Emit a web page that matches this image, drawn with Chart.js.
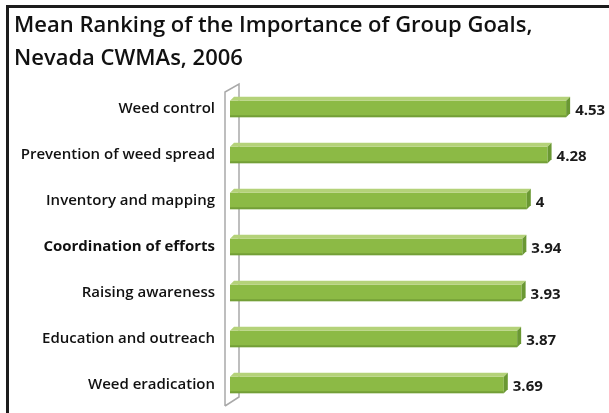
<!DOCTYPE html>
<html>
<head>
<meta charset="utf-8">
<script src="https://cdn.jsdelivr.net/npm/chart.js@4/dist/chart.umd.min.js"></script>
<style>
  html, body { margin: 0; padding: 0; background: #fff; }
  #wrap { position: relative; width: 609px; height: 413px; overflow: hidden; }
  #frame { position: absolute; left: 6px; top: 5px; width: 620px; height: 420px;
           border-left: 3px solid #1c1c1c; border-top: 3px solid #1c1c1c; }
  canvas { position: absolute; left: 0; top: 0; }
</style>
</head>
<body>
<div id="wrap">
  <canvas id="c" width="609" height="413"></canvas>
  <div id="frame"></div>
</div>
<script>
// Goals and their mean importance ranking
const categories = [
  'Weed control',
  'Prevention of weed spread',
  'Inventory and mapping',
  'Coordination of efforts',
  'Raising awareness',
  'Education and outreach',
  'Weed eradication'
];
const meanRanks = [4.53, 4.28, 4, 3.94, 3.93, 3.87, 3.69];
const valueLabels = ['4.53', '4.28', '4', '3.94', '3.93', '3.87', '3.69'];
const titleLines = ['Mean Ranking of the Importance of Group Goals,', 'Nevada CWMAs, 2006'];

const FONT = "'Open Sans', 'DejaVu Sans', sans-serif";
const DEPTH_X = 4, DEPTH_Y = 4;

// Draws the side wall of the 3D plot and the extruded faces of each bar
const depthPlugin = {
  id: 'depth',
  beforeDatasetsDraw(chart) {
    const { ctx, chartArea: a } = chart;
    const fx = a.left - 5, bx = a.left + 9;
    const fTop = a.top + 6, bTop = a.top - 2;
    const fBot = a.bottom - 2, bBot = a.bottom - 11;
    ctx.save();
    ctx.strokeStyle = '#a9a9a9';
    ctx.lineWidth = 1.5;
    ctx.beginPath();
    ctx.moveTo(fx, fBot); ctx.lineTo(fx, fTop); ctx.lineTo(bx, bTop);
    ctx.lineTo(bx, bBot); ctx.lineTo(fx, fBot);
    ctx.stroke();
    ctx.restore();
  },
  afterDatasetsDraw(chart) {
    const { ctx } = chart;
    const meta = chart.getDatasetMeta(0);
    ctx.save();
    meta.data.forEach((el, i) => {
      const p = el.getProps(['x', 'y', 'base', 'height'], true);
      const top = p.y - p.height / 2, bottom = p.y + p.height / 2;
      const l = p.base, r = p.x;
      // top face
      ctx.fillStyle = '#b4d279';
      ctx.beginPath();
      ctx.moveTo(l, top); ctx.lineTo(r, top);
      ctx.lineTo(r + DEPTH_X, top - DEPTH_Y); ctx.lineTo(l + DEPTH_X, top - DEPTH_Y);
      ctx.closePath(); ctx.fill();
      // end cap
      ctx.fillStyle = '#6a9833';
      ctx.beginPath();
      ctx.moveTo(r, top); ctx.lineTo(r + DEPTH_X, top - DEPTH_Y);
      ctx.lineTo(r + DEPTH_X, bottom - DEPTH_Y); ctx.lineTo(r, bottom);
      ctx.closePath(); ctx.fill();
      // bottom shade
      ctx.fillStyle = 'rgba(70,110,30,0.35)';
      ctx.fillRect(l, bottom - 2, r - l, 2);
      // value label
      ctx.fillStyle = '#1a1a1a';
      ctx.font = `700 15px ${FONT}`;
      ctx.textAlign = 'left';
      ctx.textBaseline = 'middle';
      ctx.fillText(valueLabels[i], r + DEPTH_X + 5, p.y + 2);
    });
    ctx.restore();
  }
};

new Chart(document.getElementById('c'), {
  type: 'bar',
  data: {
    labels: categories,
    datasets: [{
      data: meanRanks,
      backgroundColor: '#8cba45',
      borderWidth: 0,
      barPercentage: 0.36,
      categoryPercentage: 1
    }]
  },
  options: {
    indexAxis: 'y',
    responsive: false,
    animation: false,
    layout: { padding: { left: 14, right: 8, top: 9, bottom: 5 } },
    plugins: {
      legend: { display: false },
      tooltip: { enabled: false },
      title: {
        display: true,
        text: titleLines,
        align: 'start',
        color: '#111',
        font: { family: FONT, size: 22, weight: '600', lineHeight: 1.5 },
        padding: { top: 0, bottom: 11 }
      }
    },
    scales: {
      x: { display: false, min: 0, max: 5 },
      y: {
        grid: { display: false, drawTicks: false },
        border: { display: false },
        afterFit(scale) {
          scale.width = 216;
          scale.paddingTop = 0;
          scale.paddingBottom = 0;
        },
        ticks: {
          padding: 15,
          color: '#111',
          font: (ctx) => ({
            family: FONT,
            size: 15,
            weight: ctx.index === 3 ? '700' : '600'
          })
        }
      }
    }
  },
  plugins: [depthPlugin]
});
</script>
</body>
</html>
